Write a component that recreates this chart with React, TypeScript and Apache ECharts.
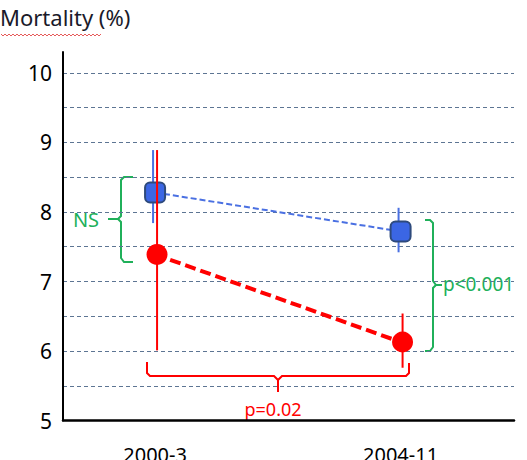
import React, { useEffect, useRef } from "react";
import * as echarts from "echarts";

const categories = ["2000-3", "2004-11"];
const xPositions = [1, 2];
const blueMean = [8.28, 7.72];
const blueLow = [7.84, 7.42];
const blueHigh = [8.89, 8.06];
const redMean = [7.39, 6.13];
const redLow = [6.01, 5.76];
const redHigh = [8.89, 6.54];
const yTicks = [5, 6, 7, 8, 9, 10];

const FONT = "Noto Sans";
const GREEN = "#20b05a";
const RED = "#ff0000";

function errorSeries(low: number[], high: number[], color: string, dx: number, z: number) {
  return {
    type: "custom",
    z,
    data: xPositions.map((x, i) => [x, low[i], high[i]]),
    renderItem: (params: any, api: any) => {
      const p1 = api.coord([api.value(0), api.value(1)]);
      const p2 = api.coord([api.value(0), api.value(2)]);
      return {
        type: "line",
        shape: { x1: p1[0] + dx, y1: p1[1], x2: p2[0] + dx, y2: p2[1] },
        style: { stroke: color, lineWidth: 2 },
      };
    },
  };
}

function wavy(x0: number, x1: number, y: number) {
  const pts: number[][] = [];
  let up = true;
  for (let x = x0; x <= x1; x += 2) {
    pts.push([x, up ? y - 1 : y + 1]);
    up = !up;
  }
  return pts;
}

export default function App() {
  const ref = useRef<HTMLDivElement>(null);
  useEffect(() => {
    document.body.style.margin = "0";
    const chart = echarts.init(ref.current!, undefined, { renderer: "svg" });
    chart.setOption({
      animation: false,
      textStyle: { fontFamily: FONT },
      grid: { left: 63, right: 13, top: 52, bottom: 39.4, outerBoundsMode: "none", containLabel: false },
      xAxis: {
        type: "value",
        min: 0.625,
        max: 2.462,
        axisLine: { show: true, onZero: false, lineStyle: { color: "#000", width: 2.5 } },
        axisTick: { show: false },
        splitLine: { show: false },
        axisLabel: {
          customValues: xPositions,
          formatter: (v: number) => categories[Math.round(v) - 1] ?? "",
          color: "#000",
          fontSize: 20,
          fontFamily: FONT,
          margin: 24,
        },
      },
      yAxis: {
        type: "value",
        min: 5,
        max: 10.3,
        interval: 0.5,
        axisLine: { show: true, lineStyle: { color: "#000", width: 2 } },
        axisTick: { show: false },
        axisLabel: {
          color: "#000",
          fontSize: 21,
          fontFamily: FONT,
          margin: 11,
          showMaxLabel: false,
          formatter: (v: number) => (yTicks.includes(v) ? String(v) : ""),
        },
        splitLine: {
          show: true,
          showMaxLine: false,
          showMinLine: false,
          lineStyle: { color: "#5d7593", type: [4, 3], width: 1 },
        },
      },
      series: [
        {
          type: "line",
          z: 2,
          data: xPositions.map((x, i) => [x, blueMean[i]]),
          lineStyle: { color: "#4a70e2", width: 2, type: [6, 3] },
          symbol: "none",
        },
        errorSeries(blueLow, blueHigh, "#4a70e2", -2, 3),
        {
          type: "scatter",
          z: 4,
          data: xPositions.map((x, i) => [x, blueMean[i]]),
          symbol: "roundRect",
          symbolSize: 20,
          itemStyle: { color: "#3b66e4", borderColor: "#2e4a7c", borderWidth: 2, opacity: 1 },
        },
        {
          type: "line",
          z: 5,
          data: xPositions.map((x, i) => [x, redMean[i]]),
          lineStyle: { color: RED, width: 4, type: [11, 5] },
          symbol: "none",
        },
        errorSeries(redLow, redHigh, RED, 2, 6),
        {
          type: "scatter",
          z: 7,
          data: xPositions.map((x, i) => [x + 0.008, redMean[i]]),
          symbol: "circle",
          symbolSize: 21,
          itemStyle: { color: RED, opacity: 1 },
        },
      ],
      graphic: [
        {
          type: "text",
          left: 0,
          top: 6,
          style: { text: "Mortality (%)", fontSize: 22, fontFamily: FONT, fill: "#1a1a2a" },
        },
        {
          type: "polyline",
          shape: { points: wavy(1, 102, 35) },
          style: { stroke: "#e03030", lineWidth: 0.8, fill: "none" },
        },
        // NS brace
        {
          type: "polyline",
          shape: { points: [[133, 177], [124, 177], [121, 180], [121, 216], [118, 219], [108, 219]] },
          style: { stroke: GREEN, lineWidth: 2, fill: "none" },
        },
        {
          type: "polyline",
          shape: { points: [[118, 219], [121, 222], [121, 258], [124, 262], [133, 262]] },
          style: { stroke: GREEN, lineWidth: 2, fill: "none" },
        },
        {
          type: "text",
          x: 86,
          y: 219,
          style: { text: "NS", fontSize: 20, fontFamily: FONT, fill: GREEN, align: "center", verticalAlign: "middle" },
        },
        // p<0.001 brace
        {
          type: "polyline",
          shape: { points: [[425, 220], [430, 220], [433, 223], [433, 281], [436, 285], [442, 285]] },
          style: { stroke: GREEN, lineWidth: 2, fill: "none" },
        },
        {
          type: "polyline",
          shape: { points: [[436, 285], [433, 288], [433, 347], [430, 351], [425, 351]] },
          style: { stroke: GREEN, lineWidth: 2, fill: "none" },
        },
        {
          type: "text",
          x: 443,
          y: 284,
          style: { text: "p<0.001", fontSize: 19, fontFamily: FONT, fill: GREEN, align: "left", verticalAlign: "middle" },
        },
        // p=0.02 brace
        {
          type: "polyline",
          shape: { points: [[147, 362], [147, 373], [150, 376], [274, 376], [278, 380], [278, 392]] },
          style: { stroke: RED, lineWidth: 2, fill: "none" },
        },
        {
          type: "polyline",
          shape: { points: [[278, 380], [282, 376], [406, 376], [409, 373], [409, 363]] },
          style: { stroke: RED, lineWidth: 2, fill: "none" },
        },
        {
          type: "text",
          x: 273,
          y: 409,
          style: { text: "p=0.02", fontSize: 18, fontFamily: FONT, fill: RED, align: "center", verticalAlign: "middle" },
        },
      ],
    });
    return () => chart.dispose();
  }, []);
  return <div ref={ref} style={{ width: 527, height: 460 }} />;
}
